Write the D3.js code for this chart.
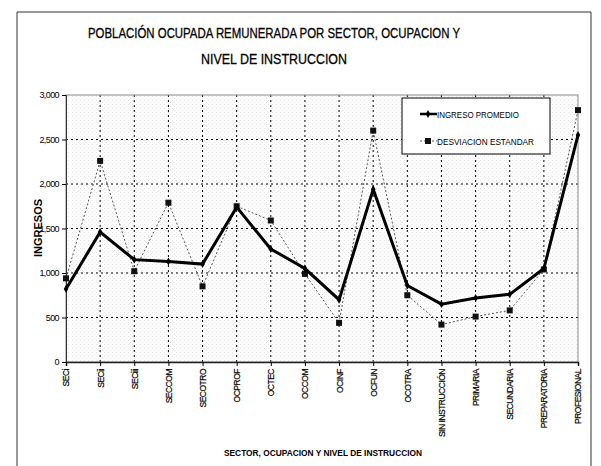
<!DOCTYPE html>
<html><head><meta charset="utf-8">
<script src="https://cdn.jsdelivr.net/npm/d3@7"></script>
<style>body{margin:0;background:#fff}svg{display:block}</style>
</head><body>
<svg id="c" width="601" height="466"></svg>
<script>
const categories = ["SECi","SECii","SECiii","SECCOM","SECOTRO","OCPROF","OCTEC","OCCOM","OCINF","OCFUN","OCOTRA","SIN INSTRUCCIÓN","PRIMARIA","SECUNDARIA","PREPARATORIA","PROFESIONAL"];
const ingresoPromedio = [820,1460,1150,1130,1100,1740,1270,1050,700,1940,860,650,720,760,1050,2550];
const desviacionEstandar = [940,2260,1020,1790,850,1750,1590,990,440,2600,750,420,510,580,1040,2830];
const yTicks = [0,500,1000,1500,2000,2500,3000];
const titleLines = ["POBLACIÓN OCUPADA REMUNERADA POR SECTOR, OCUPACION Y","NIVEL DE INSTRUCCION"];
const seriesNames = ["INGRESO PROMEDIO","DESVIACION ESTANDAR"];

const svg = d3.select("#c");
const font = "'Liberation Sans', Arial, sans-serif";
const m = {l:66, r:578, t:95, b:362};

// frame
svg.append("path").attr("d","M17,466 L17,12 L591,12 L591,466")
  .attr("fill","none").attr("stroke","#333").attr("stroke-width",1);

// title
svg.append("text").attr("x",274).attr("y",38).attr("text-anchor","middle")
  .attr("font-family",font).attr("font-size",15).attr("textLength",372).attr("lengthAdjust","spacingAndGlyphs")
  .attr("stroke","#000").attr("stroke-width",0.3)
  .text(titleLines[0]);
svg.append("text").attr("x",274).attr("y",64).attr("text-anchor","middle")
  .attr("font-family",font).attr("font-size",15).attr("textLength",146).attr("lengthAdjust","spacingAndGlyphs")
  .attr("stroke","#000").attr("stroke-width",0.3)
  .text(titleLines[1]);

const x = d3.scalePoint().domain(categories).range([m.l, m.r]);
const y = d3.scaleLinear().domain([0,3000]).range([m.b, m.t]);

// stipple pattern
const defs = svg.append("defs");
const pat = defs.append("pattern").attr("id","stip").attr("width",4).attr("height",4).attr("patternUnits","userSpaceOnUse");
pat.append("rect").attr("x",0).attr("y",0).attr("width",1).attr("height",1).attr("fill","#bbb");
pat.append("rect").attr("x",2).attr("y",2).attr("width",1).attr("height",1).attr("fill","#ccc");
svg.append("rect").attr("x",m.l).attr("y",m.t).attr("width",m.r-m.l).attr("height",m.b-m.t)
  .attr("fill","url(#stip)").attr("opacity",0.4);

// grid
const g = svg.append("g");
g.selectAll(".hg").data(yTicks.filter(d=>d>0 && d<3000)).join("line")
  .attr("x1",m.l).attr("x2",m.r).attr("y1",d=>y(d)).attr("y2",d=>y(d))
  .attr("stroke","#000").attr("stroke-width",1).attr("stroke-dasharray","2,3");
g.selectAll(".vg").data(categories.slice(1,-1)).join("line")
  .attr("x1",d=>x(d)).attr("x2",d=>x(d)).attr("y1",m.t).attr("y2",m.b)
  .attr("stroke","#000").attr("stroke-width",1).attr("stroke-dasharray","2,3");

// plot border
svg.append("rect").attr("x",m.l).attr("y",m.t).attr("width",m.r-m.l).attr("height",m.b-m.t)
  .attr("fill","none").attr("stroke","#888").attr("stroke-width",1);

// axes
const ya = svg.append("g").attr("transform",`translate(${m.l},0)`)
  .call(d3.axisLeft(y).tickValues(yTicks).tickSize(4).tickFormat(d3.format(",")));
ya.select(".domain").attr("stroke","#333");
ya.selectAll("text").attr("font-family",font).attr("font-size",9).attr("letter-spacing","-0.6px");
const xa = svg.append("g").attr("transform",`translate(0,${m.b})`)
  .call(d3.axisBottom(x).tickSize(4));
xa.select(".domain").attr("stroke","#222").attr("stroke-width",1.5);
xa.selectAll("text").attr("font-family",font).attr("font-size",8.5).attr("letter-spacing","-0.5px")
  .attr("stroke","#000").attr("stroke-width",0.2)
  .attr("text-anchor","end").attr("transform","rotate(-90)").attr("x",-7).attr("y",0).attr("dy","0.35em");

// axis titles
svg.append("text").attr("transform","translate(42,228) rotate(-90)").attr("text-anchor","middle")
  .attr("font-family",font).attr("font-size",11).attr("font-weight","bold").text("INGRESOS");
svg.append("text").attr("x",323).attr("y",456).attr("text-anchor","middle")
  .attr("font-family",font).attr("font-size",8.5).attr("font-weight","bold").attr("textLength",198).attr("lengthAdjust","spacingAndGlyphs")
  .text("SECTOR, OCUPACION Y NIVEL DE INSTRUCCION");

// series
const line = d3.line().x((d,i)=>x(categories[i])).y(d=>y(d));
svg.append("path").datum(desviacionEstandar).attr("d",line).attr("fill","none")
  .attr("stroke","#555").attr("stroke-width",1).attr("stroke-dasharray","2,2");
svg.selectAll(".sq").data(desviacionEstandar).join("rect")
  .attr("x",(d,i)=>x(categories[i])-3).attr("y",d=>y(d)-3).attr("width",6).attr("height",6).attr("fill","#111");
svg.append("path").datum(ingresoPromedio).attr("d",line).attr("fill","none")
  .attr("stroke","#000").attr("stroke-width",3).attr("stroke-linejoin","miter");
svg.selectAll(".dm").data(ingresoPromedio).join("path")
  .attr("d",d3.symbol().type(d3.symbolDiamond).size(18))
  .attr("transform",(d,i)=>`translate(${x(categories[i])},${y(d)})`).attr("fill","#000");

// legend
const lg = svg.append("g");
lg.append("rect").attr("x",402).attr("y",98).attr("width",148).attr("height",56)
  .attr("fill","#fff").attr("stroke","#000").attr("stroke-width",1);
lg.append("line").attr("x1",420).attr("x2",437).attr("y1",114).attr("y2",114).attr("stroke","#000").attr("stroke-width",2.5);
lg.append("path").attr("d",d3.symbol().type(d3.symbolDiamond).size(18)).attr("transform","translate(428,114)");
lg.append("text").attr("x",437).attr("y",118).attr("font-family",font).attr("font-size",9.5)
  .attr("textLength",82).attr("lengthAdjust","spacingAndGlyphs").text(seriesNames[0]);
lg.append("line").attr("x1",420).attr("x2",437).attr("y1",141).attr("y2",141).attr("stroke","#555").attr("stroke-dasharray","2,2");
lg.append("rect").attr("x",425).attr("y",138).attr("width",6).attr("height",6).attr("fill","#111");
lg.append("text").attr("x",437).attr("y",145).attr("font-family",font).attr("font-size",9.5)
  .attr("textLength",97).attr("lengthAdjust","spacingAndGlyphs").text(seriesNames[1]);
</script>
</body></html>
